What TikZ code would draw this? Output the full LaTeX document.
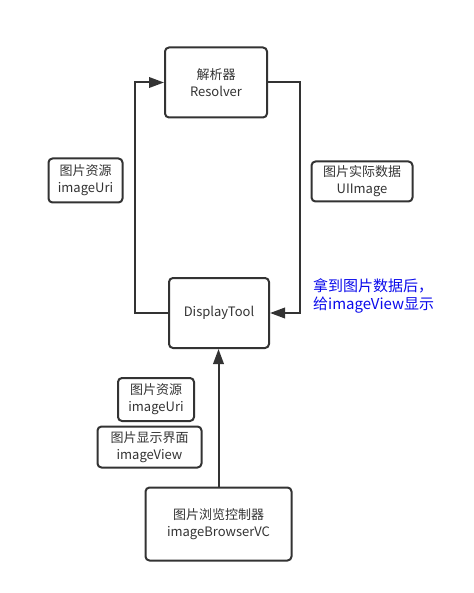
\documentclass[tikz,border=0pt]{standalone}
\usepackage{fontspec}
\setmainfont{Noto Sans CJK SC}
\usetikzlibrary{arrows.meta}
\definecolor{ink}{RGB}{51,51,51}
\definecolor{note}{RGB}{10,10,235}
\begin{document}
\begin{tikzpicture}[x=1pt,y=-1pt,
  box/.style={draw=ink,line width=2pt,rounded corners=4pt,inner sep=0pt,align=center,
    text=ink,font=\fontsize{13}{17}\selectfont},
  conn/.style={draw=ink,line width=2pt},
  tip/.style={-{Triangle[length=15pt,width=10.5pt]}}]
\useasboundingbox (0,0) rectangle (473,593);
\node[box,minimum width=102pt,minimum height=70pt] (res) at (216,82.5) {解析器\\Resolver};
\node[box,minimum width=100pt,minimum height=70pt] (dt) at (219,313) {DisplayTool};
\node[box,minimum width=146pt,minimum height=73pt] (vc) at (218.5,524) {图片浏览控制器\\imageBrowserVC};
\node[box,minimum width=74pt,minimum height=44pt] (l1) at (85.5,180.5) {图片资源\\imageUri};
\node[box,minimum width=101pt,minimum height=40pt] (r1) at (362,181.5) {图片实际数据\\UIImage};
\node[box,minimum width=76pt,minimum height=43pt] (b1) at (156,399.5) {图片资源\\imageUri};
\node[box,minimum width=104pt,minimum height=41pt] (b2) at (149.5,447) {图片显示界面\\imageView};
\node[anchor=west,align=left,inner sep=0pt,text=note,font=\fontsize{15}{18.5}\selectfont] (txt) at (313,296) {拿到图片数据后，\\给imageView显示};
\draw[conn,tip] (dt.west) -- ++(-33,0) |- (res.west);
\draw[conn,tip] (res.east) -- ++(32,0) |- (dt.east);
\draw[conn,tip] (vc.north) -- (vc.north |- dt.south);
\end{tikzpicture}
\end{document}
